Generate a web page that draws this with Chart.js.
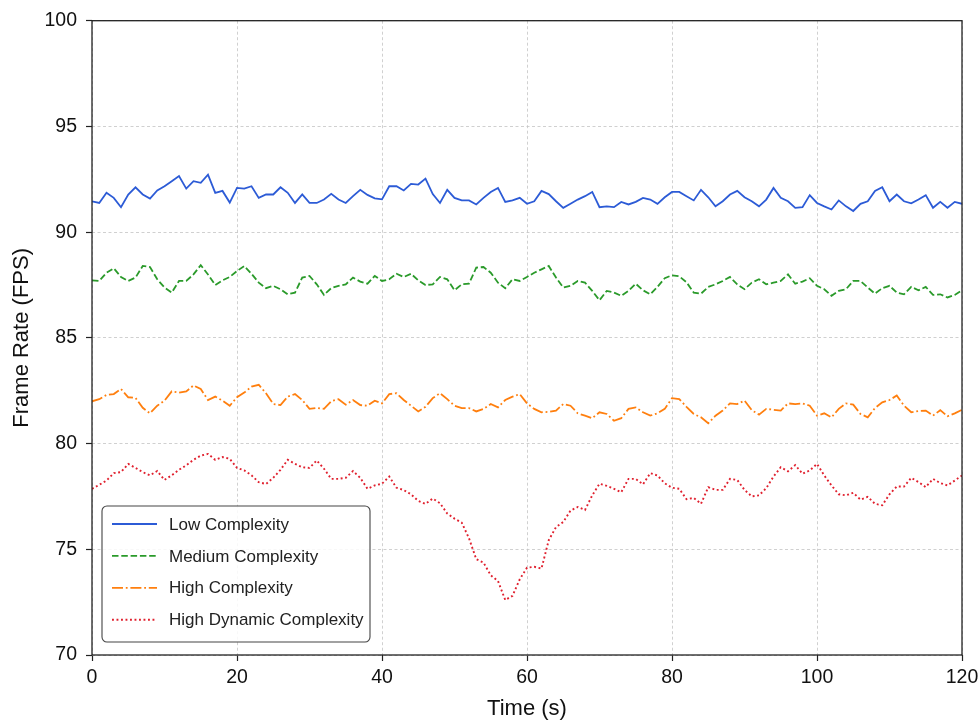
<!DOCTYPE html>
<html>
<head>
<meta charset="utf-8">
<script src="https://cdn.jsdelivr.net/npm/chart.js@4.4.0/dist/chart.umd.min.js"></script>
<style>
  html, body { margin: 0; padding: 0; background: #fff; }
  #wrap { width: 978px; height: 722px; }
</style>
</head>
<body>
<div id="wrap"><canvas id="fpsChart" width="978" height="722"></canvas></div>
<script>
// time axis (seconds)
const times = [
  0, 1, 2, 3, 4, 5, 6, 7, 8, 9, 10, 11, 12, 13, 14, 15, 16, 17, 18, 19,
  20, 21, 22, 23, 24, 25, 26, 27, 28, 29, 30, 31, 32, 33, 34, 35, 36, 37, 38, 39,
  40, 41, 42, 43, 44, 45, 46, 47, 48, 49, 50, 51, 52, 53, 54, 55, 56, 57, 58, 59,
  60, 61, 62, 63, 64, 65, 66, 67, 68, 69, 70, 71, 72, 73, 74, 75, 76, 77, 78, 79,
  80, 81, 82, 83, 84, 85, 86, 87, 88, 89, 90, 91, 92, 93, 94, 95, 96, 97, 98, 99,
  100, 101, 102, 103, 104, 105, 106, 107, 108, 109, 110, 111, 112, 113, 114, 115, 116, 117, 118, 119,
  120
];

const seriesLabels = ['Low Complexity', 'Medium Complexity', 'High Complexity', 'High Dynamic Complexity'];

// frame rate per second
const lowFps = [
  91.46, 91.38, 91.86, 91.62, 91.18, 91.78, 92.12, 91.78, 91.59, 91.97,
  92.17, 92.41, 92.65, 92.06, 92.41, 92.33, 92.72, 91.86, 91.95, 91.40,
  92.09, 92.06, 92.17, 91.62, 91.78, 91.78, 92.12, 91.86, 91.38, 91.78,
  91.38, 91.38, 91.54, 91.81, 91.54, 91.38, 91.70, 92.00, 91.76, 91.60,
  91.55, 92.17, 92.17, 91.97, 92.28, 92.25, 92.53, 91.80, 91.38, 92.00,
  91.62, 91.50, 91.50, 91.31, 91.62, 91.90, 92.09, 91.43, 91.50, 91.62,
  91.34, 91.46, 91.95, 91.80, 91.46, 91.15, 91.34, 91.54, 91.70, 91.90,
  91.18, 91.22, 91.18, 91.43, 91.31, 91.43, 91.62, 91.54, 91.34, 91.65,
  91.90, 91.90, 91.70, 91.50, 92.00, 91.65, 91.22, 91.46, 91.78, 91.95,
  91.65, 91.46, 91.22, 91.54, 92.09, 91.62, 91.46, 91.15, 91.18, 91.75,
  91.38, 91.22, 91.07, 91.50, 91.22, 91.00, 91.34, 91.46, 91.95, 92.12,
  91.46, 91.78, 91.46, 91.36, 91.54, 91.75, 91.15, 91.43, 91.15, 91.43,
  91.34
];

const mediumFps = [
  87.72, 87.69, 88.08, 88.29, 87.88, 87.69, 87.85, 88.40, 88.35, 87.77,
  87.38, 87.14, 87.69, 87.69, 88.00, 88.44, 88.00, 87.50, 87.72, 87.88,
  88.16, 88.40, 88.03, 87.61, 87.35, 87.46, 87.30, 87.06, 87.14, 87.85,
  87.93, 87.53, 87.03, 87.35, 87.46, 87.53, 87.85, 87.66, 87.56, 87.93,
  87.69, 87.77, 88.03, 87.88, 88.03, 87.72, 87.50, 87.53, 87.88, 87.77,
  87.25, 87.53, 87.56, 88.32, 88.35, 88.08, 87.61, 87.35, 87.77, 87.69,
  87.88, 88.08, 88.24, 88.40, 87.85, 87.38, 87.46, 87.69, 87.61, 87.22,
  86.78, 87.22, 87.14, 86.99, 87.22, 87.56, 87.25, 87.06, 87.41, 87.82,
  87.96, 87.91, 87.63, 87.14, 87.09, 87.41, 87.53, 87.69, 87.88, 87.53,
  87.30, 87.61, 87.77, 87.53, 87.61, 87.69, 88.00, 87.56, 87.66, 87.82,
  87.46, 87.30, 86.99, 87.22, 87.30, 87.69, 87.69, 87.38, 87.09, 87.35,
  87.46, 87.14, 87.06, 87.41, 87.25, 87.41, 87.03, 87.06, 86.91, 87.03,
  87.25
];

const highFps = [
  82.00, 82.10, 82.30, 82.34, 82.58, 82.19, 82.16, 81.69, 81.43, 81.79,
  82.03, 82.47, 82.41, 82.47, 82.75, 82.58, 82.06, 82.22, 82.03, 81.79,
  82.19, 82.41, 82.69, 82.78, 82.38, 81.87, 81.82, 82.22, 82.34, 82.06,
  81.64, 81.69, 81.64, 82.00, 82.10, 81.84, 82.06, 81.82, 81.79, 82.03,
  81.90, 82.34, 82.38, 82.06, 81.79, 81.52, 81.74, 82.15, 82.38, 82.10,
  81.79, 81.68, 81.68, 81.52, 81.64, 81.87, 81.71, 82.06, 82.22, 82.34,
  81.90, 81.64, 81.48, 81.50, 81.56, 81.87, 81.79, 81.43, 81.32, 81.20,
  81.48, 81.40, 81.08, 81.20, 81.64, 81.71, 81.48, 81.32, 81.43, 81.64,
  82.15, 82.10, 81.74, 81.40, 81.24, 80.96, 81.32, 81.56, 81.90, 81.87,
  82.03, 81.58, 81.37, 81.64, 81.60, 81.56, 81.90, 81.87, 81.90, 81.79,
  81.32, 81.43, 81.24, 81.64, 81.90, 81.84, 81.40, 81.24, 81.68, 81.95,
  82.06, 82.27, 81.79, 81.48, 81.54, 81.56, 81.32, 81.58, 81.29, 81.43,
  81.60
];

const dynamicFps = [
  77.86, 78.05, 78.25, 78.60, 78.65, 79.04, 78.85, 78.65, 78.50, 78.70,
  78.28, 78.50, 78.76, 78.97, 79.23, 79.43, 79.51, 79.23, 79.36, 79.28,
  78.85, 78.73, 78.50, 78.17, 78.09, 78.38, 78.76, 79.23, 79.04, 78.88,
  78.85, 79.20, 78.81, 78.33, 78.33, 78.38, 78.70, 78.38, 77.86, 78.02,
  78.10, 78.44, 77.91, 77.80, 77.60, 77.29, 77.15, 77.40, 77.18, 76.69,
  76.45, 76.26, 75.52, 74.53, 74.37, 73.77, 73.50, 72.60, 72.80, 73.58,
  74.13, 74.17, 74.09, 75.43, 76.05, 76.29, 76.83, 77.00, 76.86, 77.55,
  78.10, 78.00, 77.86, 77.70, 78.33, 78.33, 78.07, 78.60, 78.49, 78.12,
  77.91, 77.86, 77.37, 77.43, 77.15, 77.94, 77.81, 77.81, 78.33, 78.28,
  77.81, 77.50, 77.55, 77.89, 78.44, 78.88, 78.69, 78.98, 78.57, 78.73,
  79.04, 78.49, 78.02, 77.60, 77.55, 77.67, 77.35, 77.48, 77.15, 77.08,
  77.60, 77.97, 77.97, 78.38, 78.18, 77.94, 78.33, 78.13, 78.02, 78.25,
  78.49
];

const xTicks = [0, 20, 40, 60, 80, 100, 120];
const yTicks = [70, 75, 80, 85, 90, 95, 100];

const FONT = '"Liberation Sans", Arial, sans-serif';
Chart.defaults.font.family = FONT;
Chart.defaults.color = '#111';

const toPoints = vals => vals.map((v, i) => ({ x: times[i], y: v }));

// full box around the plot (matplotlib style spines)
const frameBox = {
  id: 'frameBox',
  afterDatasetsDraw(chart) {
    const { ctx, chartArea: a } = chart;
    ctx.save();
    ctx.strokeStyle = '#222';
    ctx.lineWidth = 1.3;
    ctx.strokeRect(a.left, a.top, a.right - a.left, a.bottom - a.top);
    ctx.restore();
  }
};

// legend drawn inside the plot, lower left
const boxLegend = {
  id: 'boxLegend',
  afterDraw(chart) {
    const { ctx, chartArea } = chart;
    const x = chartArea.left + 10, y = chartArea.bottom - 149;
    const w = 268, h = 136;
    ctx.save();
    ctx.beginPath();
    ctx.roundRect(x, y, w, h, 5);
    ctx.fillStyle = 'rgba(255,255,255,0.85)';
    ctx.fill();
    ctx.strokeStyle = '#444';
    ctx.lineWidth = 1.1;
    ctx.stroke();
    chart.data.datasets.forEach((ds, i) => {
      const cy = y + 18 + i * 31.9;
      ctx.beginPath();
      ctx.setLineDash(ds.borderDash || []);
      ctx.strokeStyle = ds.borderColor;
      ctx.lineWidth = ds.borderWidth;
      ctx.moveTo(x + 10, cy);
      ctx.lineTo(x + 55, cy);
      ctx.stroke();
      ctx.setLineDash([]);
      ctx.fillStyle = '#222';
      ctx.font = '17px ' + FONT;
      ctx.textBaseline = 'middle';
      ctx.fillText(ds.label, x + 67, cy + 1);
    });
    ctx.restore();
  }
};

const ctx = document.getElementById('fpsChart').getContext('2d');
new Chart(ctx, {
  type: 'line',
  data: {
    datasets: [
      { label: seriesLabels[0], data: toPoints(lowFps), borderColor: '#2c5bd6', borderWidth: 1.8, borderDash: [] },
      { label: seriesLabels[1], data: toPoints(mediumFps), borderColor: '#2a9a2a', borderWidth: 1.8, borderDash: [6.5, 2.8] },
      { label: seriesLabels[2], data: toPoints(highFps), borderColor: '#ff7f0e', borderWidth: 1.8, borderDash: [11, 2.8, 1.8, 2.8] },
      { label: seriesLabels[3], data: toPoints(dynamicFps), borderColor: '#e0202e', borderWidth: 1.9, borderDash: [1.9, 2.6] }
    ]
  },
  options: {
    responsive: false,
    animation: false,
    layout: { padding: { top: 19, right: 16, bottom: 0, left: 0 } },
    elements: { point: { radius: 0 }, line: { tension: 0 } },
    plugins: {
      legend: { display: false },
      tooltip: { enabled: false }
    },
    scales: {
      x: {
        type: 'linear',
        min: 0,
        max: 120,
        afterFit: s => { s.height = 67; s.paddingRight = 12; s.paddingLeft = 0; },
        afterBuildTicks: s => { s.ticks = xTicks.map(v => ({ value: v })); },
        grid: { color: '#c4c4c4', lineWidth: 0.8, tickLength: 6, tickColor: '#222', tickWidth: 1.2 },
        border: { display: false, dash: [3, 2.5] },
        ticks: { font: { size: 19.5 }, color: '#111', padding: 5, maxRotation: 0 },
        title: { display: true, text: 'Time (s)', font: { size: 22 }, color: '#111', padding: { top: 0, bottom: 0 } }
      },
      y: {
        min: 70,
        max: 100,
        afterFit: s => { s.width = 92; },
        afterBuildTicks: s => { s.ticks = yTicks.map(v => ({ value: v })); },
        grid: { color: '#c4c4c4', lineWidth: 0.8, tickLength: 6, tickColor: '#222', tickWidth: 1.2 },
        border: { display: false, dash: [3, 2.5] },
        ticks: { font: { size: 19.5 }, color: '#111', padding: 9 },
        title: { display: true, text: 'Frame Rate (FPS)', font: { size: 22 }, color: '#111', padding: { top: 9, bottom: 0 } }
      }
    }
  },
  plugins: [frameBox, boxLegend]
});
</script>
</body>
</html>
